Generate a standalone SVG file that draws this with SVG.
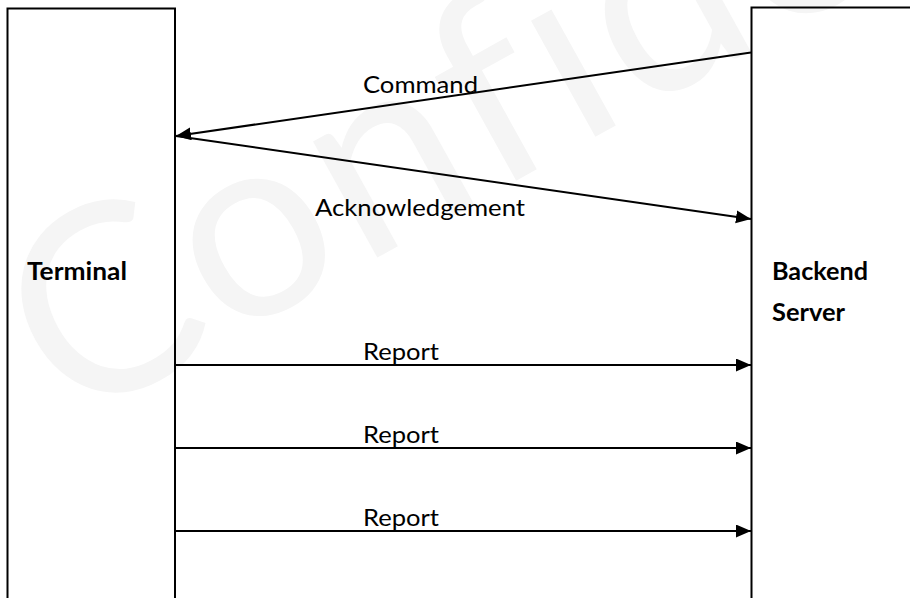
<svg xmlns="http://www.w3.org/2000/svg" width="910" height="598" viewBox="0 0 910 598">
  <style>
    .wm { font-family: Lato, "Open Sans", sans-serif; font-size: 262px; letter-spacing: 6px; fill: #f5f5f5; }
    .box { fill: none; stroke: #000; stroke-width: 2; }
    .lbl { font-family: Lato, "Open Sans", sans-serif; font-size: 24px; fill: #000; }
    .title { font-family: Lato, "Open Sans", sans-serif; font-size: 24px; font-weight: bold; fill: #000; }
    .msg { fill: none; stroke: #000; stroke-width: 2; marker-end: url(#head); }
  </style>
  <defs>
    <marker id="head" markerUnits="userSpaceOnUse" markerWidth="16" markerHeight="14" refX="15" refY="6.5" orient="auto">
      <path d="M0,0 L15,6.5 L0,13 Z" fill="#000"/>
    </marker>
  </defs>
  <rect width="910" height="598" fill="#fff"/>
  <g id="watermark">
    <text class="wm" transform="translate(70,428) rotate(-29)">Confidential</text>
  </g>
  <g id="terminal">
    <rect class="box" x="7.5" y="8.5" width="167.5" height="620"/>
    <text class="title" x="27" y="280" textLength="100" lengthAdjust="spacingAndGlyphs">Terminal</text>
  </g>
  <g id="backend-server">
    <rect class="box" x="751.5" y="7.5" width="200" height="620"/>
    <text class="title" x="772" y="280" textLength="96" lengthAdjust="spacingAndGlyphs">Backend</text>
    <text class="title" x="772" y="321" textLength="73" lengthAdjust="spacingAndGlyphs">Server</text>
  </g>
  <g id="connectors">
    <line class="msg" x1="751" y1="52.5" x2="176" y2="136"/>
    <line class="msg" x1="176" y1="136" x2="751" y2="219"/>
    <line class="msg" x1="176" y1="365" x2="751" y2="365"/>
    <line class="msg" x1="176" y1="448" x2="751" y2="448"/>
    <line class="msg" x1="176" y1="531" x2="751" y2="531"/>
    <text class="lbl" x="363" y="92.5" textLength="115" lengthAdjust="spacingAndGlyphs">Command</text>
    <text class="lbl" x="315" y="216" textLength="210" lengthAdjust="spacingAndGlyphs">Acknowledgement</text>
    <text class="lbl" x="363" y="360" textLength="76" lengthAdjust="spacingAndGlyphs">Report</text>
    <text class="lbl" x="363" y="443" textLength="76" lengthAdjust="spacingAndGlyphs">Report</text>
    <text class="lbl" x="363" y="526" textLength="76" lengthAdjust="spacingAndGlyphs">Report</text>
  </g>
</svg>
